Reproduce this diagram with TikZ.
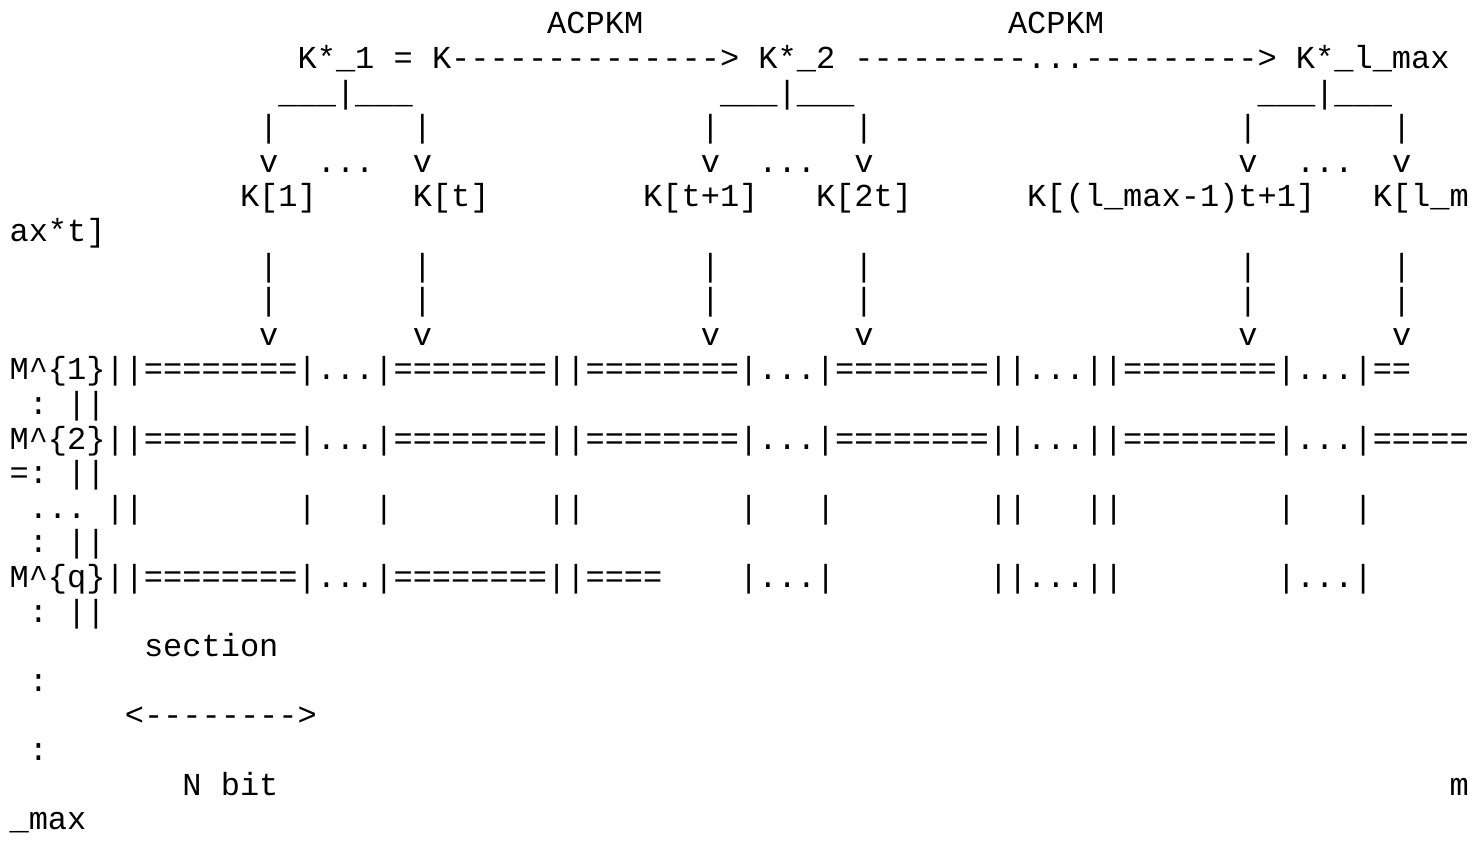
\documentclass[tikz,border=0pt]{standalone}
\usepackage{fontspec}
\setmonofont{Liberation Mono}
\begin{document}
\begin{tikzpicture}[x=1pt,y=-1pt,
  txt/.style={anchor=base west,inner sep=0pt,outer sep=0pt,
    font=\ttfamily\fontsize{32}{34.6}\selectfont}]
\newcommand\seg[4]{\node[txt] (#1) at ({9.6+19.2*#2},{33.9+34.6*(#3-1)}) {#4};}
\fill[white] (0,0) rectangle (1473,843);
\useasboundingbox (0,0) rectangle (1473,843);
% line 1
\seg{la}{28}{1}{ACPKM}
\seg{lb}{52}{1}{ACPKM}
% line 2
\seg{lc}{15}{2}{K*\_1~=~K-------------->~K*\_2~---------...--------->~K*\_l\_max}
% line 3
\seg{ba}{14}{3}{\_\_\_|\_\_\_}
\seg{bb}{37}{3}{\_\_\_|\_\_\_}
\seg{bc}{65}{3}{\_\_\_|\_\_\_}
% lines 4,5,8,9,10
\foreach \c [count=\i] in {13,21,36,44,64,72}{
  \seg{p\i}{\c}{4}{|}
  \seg{v\i}{\c}{5}{v}
  \seg{q\i}{\c}{8}{|}
  \seg{r\i}{\c}{9}{|}
  \seg{w\i}{\c}{10}{v}
}
\seg{d1}{16}{5}{...}
\seg{d2}{39}{5}{...}
\seg{d3}{67}{5}{...}
% line 6
\seg{k1}{12}{6}{K[1]}
\seg{k2}{21}{6}{K[t]}
\seg{k3}{33}{6}{K[t+1]}
\seg{k4}{42}{6}{K[2t]}
\seg{k5}{53}{6}{K[(l\_max-1)t+1]}
\seg{k6}{71}{6}{K[l\_m}
% line 7
\seg{k7}{0}{7}{ax*t]}
% line 11
\seg{m1}{0}{11}{M\textasciicircum\{1\}||========|...|========||========|...|========||...||========|...|==}
\seg{c1}{1}{12}{:}
\seg{e1}{3}{12}{||}
% line 13
\seg{m2}{0}{13}{M\textasciicircum\{2\}||========|...|========||========|...|========||...||========|...|=====}
\seg{c2}{0}{14}{=:}
\seg{e2}{3}{14}{||}
% line 15
\seg{g0}{1}{15}{...}
\seg{g1}{5}{15}{||}
\seg{g2}{15}{15}{|}
\seg{g3}{19}{15}{|}
\seg{g4}{28}{15}{||}
\seg{g5}{38}{15}{|}
\seg{g6}{42}{15}{|}
\seg{g7}{51}{15}{||}
\seg{g8}{56}{15}{||}
\seg{g9}{66}{15}{|}
\seg{g10}{70}{15}{|}
\seg{c3}{1}{16}{:}
\seg{e3}{3}{16}{||}
% line 17
\seg{m3}{0}{17}{M\textasciicircum\{q\}||========|...|========||====}
\seg{h1}{38}{17}{|...|}
\seg{h2}{51}{17}{||...||}
\seg{h3}{66}{17}{|...|}
\seg{c4}{1}{18}{:}
\seg{e4}{3}{18}{||}
% bottom
\seg{s1}{7}{19}{section}
\seg{c5}{1}{20}{:}
\seg{s2}{6}{21}{<-------->}
\seg{c6}{1}{22}{:}
\seg{s3}{9}{23}{N~bit}
\seg{s4}{75}{23}{m}
\seg{s5}{0}{24}{\_max}
\end{tikzpicture}
\end{document}
